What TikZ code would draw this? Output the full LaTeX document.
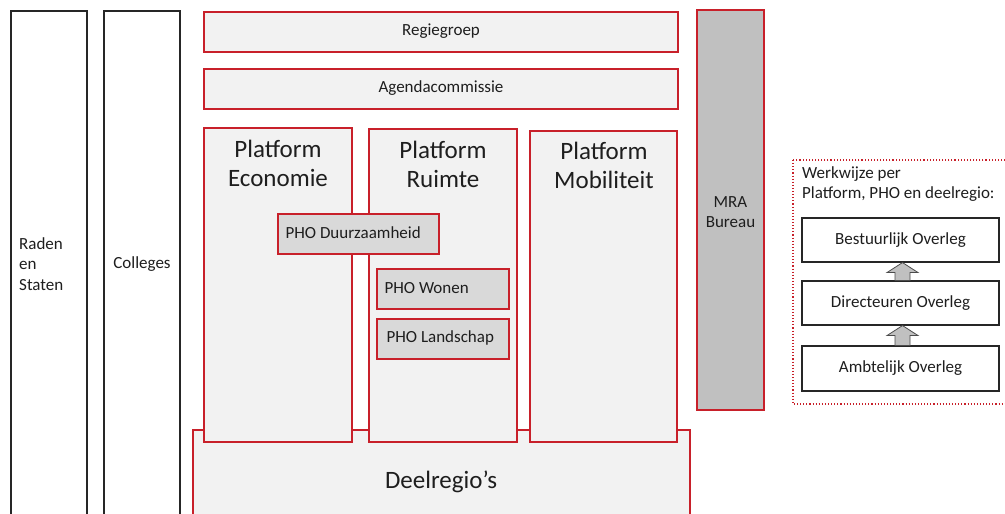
\documentclass[tikz,border=0pt]{standalone}
\usepackage{fontspec}
\setmainfont{Carlito}
\usetikzlibrary{calc}
\definecolor{mred}{RGB}{200,32,42}
\definecolor{lfill}{RGB}{242,242,242}
\definecolor{pfill}{RGB}{217,217,217}
\definecolor{mfill}{RGB}{192,192,192}
\definecolor{tcol}{RGB}{30,30,30}
\tikzset{
  blk/.style={draw=black!85, line width=1.3pt, fill=white, text=tcol},
  redbox/.style={draw=mred, line width=1.3pt, fill=lfill, text=tcol},
  phobox/.style={draw=mred, line width=1.3pt, fill=pfill, text=tcol},
  sbox/.style={draw=black!85, line width=1.1pt, fill=white, text=tcol},
  smalltxt/.style={font=\fontsize{17}{20.5}\selectfont},
  bigtxt/.style={font=\fontsize{25}{29}\selectfont},
  blockarrow/.style={draw=black!70, fill=mfill, line width=0.8pt, line join=miter}
}
\begin{document}
\begin{tikzpicture}[x=1pt,y=-1pt]
\useasboundingbox (0,0) rectangle (1005,514);
\clip (0,0) rectangle (1005,514);
% left columns
\draw[blk] (11,11) rectangle (87,530);
\node[smalltxt, text=tcol, align=left, anchor=west, inner sep=0pt] (raden) at (19,264) {Raden\\en\\Staten};
\draw[blk] (104,11) rectangle (180,530);
\node[smalltxt, text=tcol] (colleges) at (142,264) {Colleges};
% top bars
\draw[redbox] (204,12) rectangle (678,52);
\node[smalltxt, text=tcol] (regie) at (441,31) {Regiegroep};
\draw[redbox] (204,69) rectangle (678,109);
\node[smalltxt, text=tcol] (agenda) at (441,88) {Agendacommissie};
% deelregio's
\draw[redbox] (193,430) rectangle (690,530);
\node[bigtxt, text=tcol] (deel) at (441,482) {Deelregio’s};
% platforms
\draw[redbox] (204,128) rectangle (352,442);
\node[bigtxt, text=tcol, align=center, anchor=north] (eco) at (278,137) {Platform\\Economie};
\draw[redbox] (369,129) rectangle (517,442);
\node[bigtxt, text=tcol, align=center, anchor=north] (ruimte) at (443,138) {Platform\\Ruimte};
\draw[redbox] (530,131) rectangle (677,442);
\node[bigtxt, text=tcol, align=center, anchor=north] (mob) at (604,139) {Platform\\Mobiliteit};
% PHO boxes
\draw[phobox] (278,214) rectangle (439,254);
\node[smalltxt, text=tcol, anchor=west] (duur) at (282,233) {PHO Duurzaamheid};
\draw[phobox] (377,269) rectangle (509,309);
\node[smalltxt, text=tcol, anchor=west] (wonen) at (381,288) {PHO Wonen};
\draw[phobox] (377,319) rectangle (509,359);
\node[smalltxt, text=tcol, anchor=west] (land) at (383,338) {PHO Landschap};
% MRA bureau
\draw[draw=mred, line width=1.3pt, fill=mfill] (697,10) rectangle (764,410);
\node[smalltxt, text=tcol, align=center] (mra) at (730.5,212) {MRA\\Bureau};
% werkwijze
\draw[draw=mred, line width=1.1pt, dotted] (793,160) rectangle (1010,404);
\node[smalltxt, text=tcol, align=left, anchor=north west, inner sep=0pt] (werk) at (802,166) {Werkwijze per\\Platform, PHO en deelregio:};
\node[sbox, smalltxt, minimum width=197pt, minimum height=44pt] (best) at (900.5,240) {Bestuurlijk Overleg};
\node[sbox, smalltxt, minimum width=197pt, minimum height=44pt] (dir) at (900.5,303) {Directeuren Overleg};
\node[sbox, smalltxt, minimum width=197pt, minimum height=45pt] (amb) at (900.5,368.5) {Ambtelijk Overleg};
% block arrows (drawn from lower box top to upper box bottom)
\coordinate (t1) at ($(best.south)+(2,0)$);
\coordinate (b1) at ($(dir.north)+(2,0)$);
\draw[blockarrow] (t1) -- ($(t1)+(15.5,10)$) -- ($(t1)+(7.5,10)$) -- ($(b1)+(7.5,0)$) -- ($(b1)+(-7.5,0)$) -- ($(t1)+(-7.5,10)$) -- ($(t1)+(-15.5,10)$) -- cycle;
\coordinate (t2) at ($(dir.south)+(2,0)$);
\coordinate (b2) at ($(amb.north)+(2,0)$);
\draw[blockarrow] (t2) -- ($(t2)+(15.5,10)$) -- ($(t2)+(7.5,10)$) -- ($(b2)+(7.5,0)$) -- ($(b2)+(-7.5,0)$) -- ($(t2)+(-7.5,10)$) -- ($(t2)+(-15.5,10)$) -- cycle;
\end{tikzpicture}
\end{document}
